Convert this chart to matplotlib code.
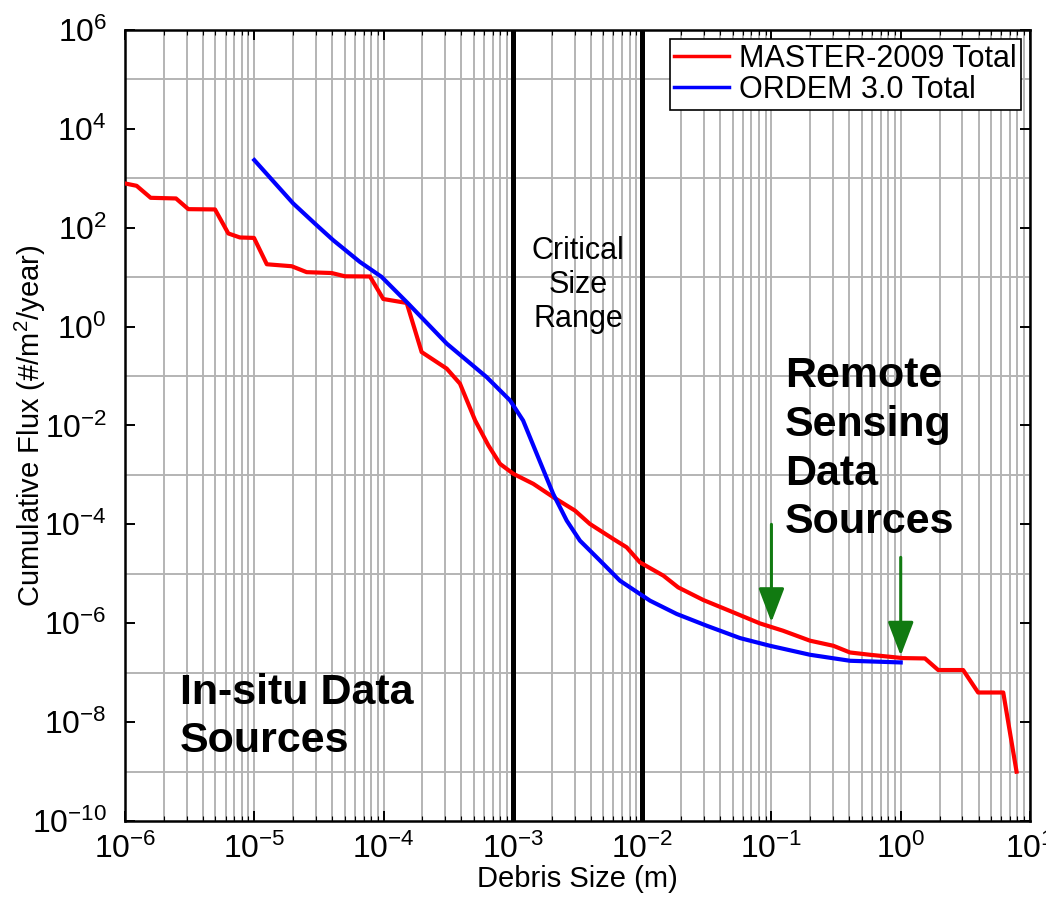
import numpy as np
import matplotlib
matplotlib.use("Agg")
import matplotlib.pyplot as plt
import matplotlib.ticker as ticker

# ── data ───────────────────────────────────────────────────────────────────
master_size = [1.0e-6, 1.23e-6, 1.58e-6, 2.48e-6, 3.09e-6, 4.97e-6, 6.30e-6, 7.74e-6,
               9.95e-6, 1.25e-5, 1.95e-5, 2.54e-5, 3.97e-5, 5.02e-5, 7.85e-5, 9.95e-5,
               1.51e-4, 1.97e-4, 3.08e-4, 3.90e-4, 5.11e-4, 6.47e-4, 7.96e-4, 1.01e-3,
               1.44e-3, 2.06e-3, 3.02e-3, 3.94e-3, 5.97e-3, 7.59e-3, 9.62e-3, 1.46e-2,
               1.90e-2, 2.97e-2, 5.07e-2, 8.15e-2, 0.123, 0.199, 0.301, 0.405,
               0.578, 1.04, 1.54, 1.95, 3.04, 3.97, 6.21, 7.87]
master_flux = [785, 703, 402, 390, 237, 234, 76.4, 63.4,
               62.1, 18.2, 16.6, 12.6, 12.1, 10.4, 10.3, 3.61,
               3.00, 0.305, 0.141, 0.070, 1.26e-2, 3.94e-3, 1.67e-3, 1.05e-3,
               6.59e-4, 3.53e-4, 1.90e-4, 1.02e-4, 5.07e-5, 3.43e-5, 1.70e-5, 9.16e-6,
               5.31e-6, 2.95e-6, 1.66e-6, 9.91e-7, 7.05e-7, 4.43e-7, 3.50e-7, 2.56e-7,
               2.30e-7, 1.97e-7, 1.94e-7, 1.13e-7, 1.13e-7, 3.97e-8, 3.97e-8, 9.95e-10]

ordem_size = [1.0e-5, 2.0e-5, 3.04e-5, 4.08e-5, 6.56e-5, 9.66e-5, 1.55e-4, 3.08e-4,
              6.27e-4, 9.51e-4, 1.20e-3, 1.53e-3, 2.05e-3, 2.61e-3, 3.30e-3, 4.72e-3,
              6.73e-3, 1.15e-2, 1.85e-2, 3.16e-2, 5.71e-2, 9.73e-2, 0.199, 0.405, 1.0]
ordem_flux = [2330, 309, 112, 55.8, 20.3, 10.1, 2.92, 0.452,
              9.5e-2, 3.21e-2, 1.26e-2, 2.67e-3, 4.14e-4, 1.19e-4, 4.69e-5, 1.85e-5,
              7.26e-6, 2.86e-6, 1.54e-6, 8.89e-7, 5.01e-7, 3.50e-7, 2.30e-7, 1.74e-7, 1.61e-7]

critical_range = [1e-3, 1e-2]

# green arrows: x, start flux, tip flux
arrow_x = [0.1, 1.0]
arrow_from = [1.0e-4, 2.15e-5]
arrow_to = [1.05e-6, 2.2e-7]
# ───────────────────────────────────────────────────────────────────────────

plt.rcParams.update({
    "font.family": ["Liberation Sans", "DejaVu Sans"],
    "mathtext.fontset": "custom",
    "mathtext.rm": "Liberation Sans",
    "mathtext.it": "Liberation Sans:italic",
    "mathtext.bf": "Liberation Sans:bold",
    "axes.unicode_minus": False,
    "axes.linewidth": 1.8,
    "xtick.direction": "in",
    "ytick.direction": "in",
})

fig = plt.figure(figsize=(10.46, 9.01), dpi=100)
ax = fig.add_axes([0.1195, 0.0888, 0.8652, 0.8780])

ax.set_xscale("log")
ax.set_yscale("log")
ax.set_xlim(1e-6, 1e1)
ax.set_ylim(1e-10, 1e6)

# grid: all x decades + subdivisions, y only at odd decades
ax.xaxis.set_major_locator(ticker.LogLocator(base=10, numticks=20))
ax.xaxis.set_minor_locator(ticker.LogLocator(base=10, subs=np.arange(2, 10), numticks=20))
ax.yaxis.set_major_locator(ticker.FixedLocator([10.0**k for k in range(-10, 7, 2)]))
ax.yaxis.set_minor_locator(ticker.FixedLocator([10.0**k for k in range(-9, 6, 2)]))
ax.xaxis.set_major_formatter(ticker.LogFormatterSciNotation())
ax.yaxis.set_major_formatter(ticker.LogFormatterSciNotation())
ax.xaxis.set_minor_formatter(ticker.NullFormatter())
ax.yaxis.set_minor_formatter(ticker.NullFormatter())

ax.grid(True, which="major", axis="x", color="#b4b4b4", linewidth=1.4, zorder=0)
ax.grid(True, which="minor", axis="x", color="#b4b4b4", linewidth=1.4, zorder=0)
ax.grid(True, which="minor", axis="y", color="#b4b4b4", linewidth=1.4, zorder=0)
ax.set_axisbelow(True)

ax.tick_params(which="major", length=7, width=1.4, labelsize=23,
               top=True, right=True)
ax.tick_params(axis="y", which="major", pad=13)
ax.tick_params(axis="x", which="major", pad=9)
ax.tick_params(axis="x", which="minor", length=3.5, width=0.8, top=True)
ax.tick_params(axis="y", which="minor", length=0)

for xc in critical_range:
    ax.axvline(xc, color="black", linewidth=3.6, zorder=3)

ax.plot(master_size, master_flux, color="#ff0000", linewidth=3.0, zorder=4,
        label="MASTER-2009 Total")
ax.plot(ordem_size, ordem_flux, color="#0000ff", linewidth=3.0, zorder=4,
        label="ORDEM 3.0 Total")

for xa, y0, y1 in zip(arrow_x, arrow_from, arrow_to):
    ax.annotate("", xy=(xa, y1), xytext=(xa, y0),
                arrowprops=dict(arrowstyle="-|>,head_width=0.4,head_length=1.05",
                                mutation_scale=20, color="#117a11",
                                linewidth=2.2, shrinkA=0, shrinkB=0), zorder=5)

ax.text(3.2e-3, 7.0, "Critical\nSize\nRange", ha="center", va="center",
        fontsize=22, linespacing=1.17, zorder=5)
ax.text(0.127, 0.25, "Remote\nSensing\nData\nSources", ha="left", va="top",
        fontsize=31, fontweight="bold", linespacing=1.28, zorder=5)
ax.text(2.66e-6, 1.0e-7, "In-situ Data\nSources", ha="left", va="top",
        fontsize=31, fontweight="bold", linespacing=1.28, zorder=5)

ax.set_xlabel("Debris Size (m)", fontsize=21)
ax.set_ylabel("Cumulative Flux (#/m$^2$/year)", fontsize=21)
ax.xaxis.set_label_coords(0.5, -0.055)
ax.yaxis.set_label_coords(-0.085, 0.5)

leg = ax.legend(loc="upper right", fontsize=22, frameon=True, fancybox=False,
                framealpha=1, edgecolor="black", handlelength=1.8,
                handletextpad=0.3, borderpad=0.15, labelspacing=0.05,
                borderaxespad=0.3)
leg.get_frame().set_linewidth(1.2)
for line in leg.get_lines():
    line.set_linewidth(2.5)

fig.savefig("out.png", dpi=100)
